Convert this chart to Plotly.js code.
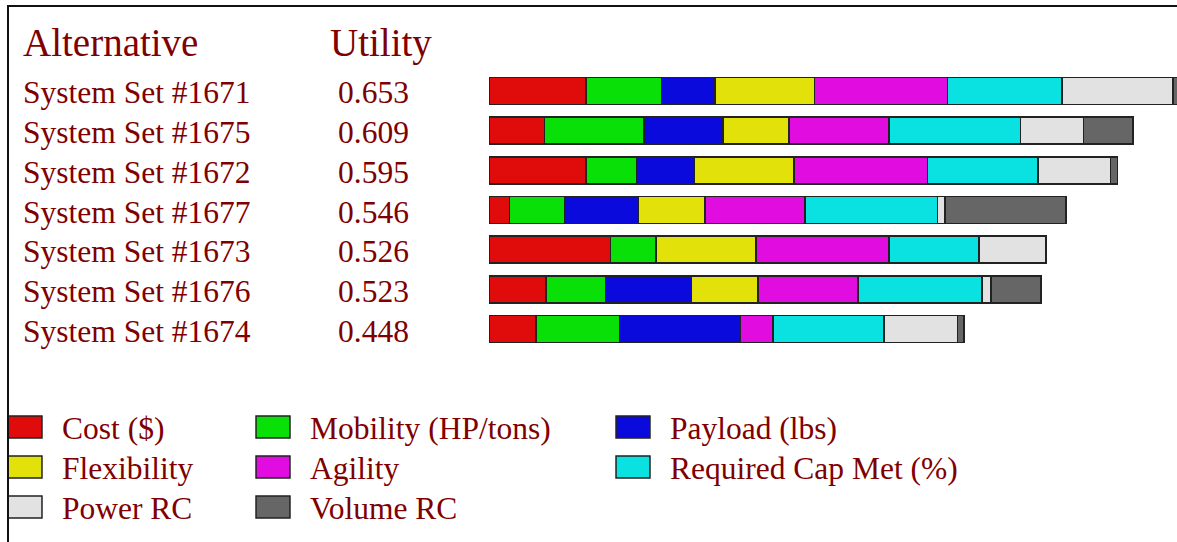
<!DOCTYPE html>
<html>
<head>
<meta charset="utf-8">
<script src="https://cdn.plot.ly/plotly-3.0.1.min.js"></script>
<style>
html,body{margin:0;padding:0;background:#fff;}
#wrap{position:relative;width:1177px;height:542px;overflow:hidden;}
#chart{position:absolute;left:0;top:0;width:1177px;height:542px;}
#frame{position:absolute;left:7px;top:5px;width:1300px;height:700px;border-top:2px solid #111;border-left:2px solid #111;pointer-events:none;z-index:10;}
.legendpoints path{transform:translate(25px,0px) scale(2.83,1.83);vector-effect:non-scaling-stroke;}
</style>
</head>
<body>
<div id="wrap"><div id="chart"></div><div id="frame"></div></div>
<script>
// ---- data ----
var alternatives = ['System Set #1671','System Set #1675','System Set #1672','System Set #1677','System Set #1673','System Set #1676','System Set #1674'];
var utilities = [0.653, 0.609, 0.595, 0.546, 0.526, 0.523, 0.448];
var criteria = ['Cost ($)','Mobility (HP/tons)','Payload (lbs)','Flexibility','Agility','Required Cap Met (%)','Power RC','Volume RC'];
var criteriaColors = ['#e00c0c','#08e008','#0a0adc','#e2e20a','#e00ce0','#0ae2e2','#e2e2e2','#666666'];
var cost        = [0.092, 0.0525, 0.092, 0.0192, 0.115, 0.054, 0.0443];
var mobility    = [0.071, 0.094, 0.048, 0.0524, 0.0429, 0.0563, 0.079];
var payload     = [0.051, 0.075, 0.054, 0.070, 0, 0.0812, 0.1145];
var flexibility = [0.094, 0.0625, 0.0947, 0.0627, 0.0948, 0.0629, 0];
var agility     = [0.126, 0.0946, 0.126, 0.0946, 0.1258, 0.0945, 0.031];
var reqCapMet   = [0.108, 0.124, 0.1045, 0.1255, 0.085, 0.1176, 0.105];
var powerRC     = [0.105, 0.060, 0.069, 0.0071, 0.0634, 0.0083, 0.0695];
var volumeRC    = [0.006, 0.0466, 0.0063, 0.1145, 0, 0.0475, 0.0062];
var seriesValues = [cost, mobility, payload, flexibility, agility, reqCapMet, powerRC, volumeRC];

// ---- layout constants ----
var W = 1177, H = 542;
var M = {l:489, r:0, t:71, b:193};
var plotW = W - M.l - M.r, plotH = H - M.t - M.b;
var pxPerUnit = 1057;
var textColor = '#7f0000';
var fontFam = '"Liberation Serif", "Times New Roman", serif';
function px2x(px){ return (px - M.l) / plotW; }
function py2y(py){ return (H - M.b - py) / plotH; }

var legendTextX = [62, 310, 670];
var legendRowY = [427, 467, 507];

var traces = [];
var layout = {
  width: W, height: H,
  margin: {l:M.l, r:M.r, t:M.t, b:M.b, pad:0, autoexpand:false},
  paper_bgcolor:'#ffffff', plot_bgcolor:'#ffffff',
  barmode:'stack', bargap:0.32,
  showlegend:true,
  xaxis:{range:[0, plotW/pxPerUnit], visible:false, fixedrange:true},
  yaxis:{type:'category', categoryorder:'array', categoryarray:alternatives, range:[alternatives.length-0.5, -0.5], visible:false, fixedrange:true},
  annotations:[]
};

criteria.forEach(function(name, i){
  var lid = i === 0 ? 'legend' : 'legend' + (i+1);
  traces.push({
    type:'bar', orientation:'h', name:name,
    x: seriesValues[i], y: alternatives,
    marker:{color:criteriaColors[i], line:{color:'#222222', width:1.5}},
    hoverinfo:'none', legend: lid
  });
  var col = i % 3, row = Math.floor(i / 3);
  layout[lid] = {
    xref:'container', yref:'container',
    x:(legendTextX[col] - 62)/W, xanchor:'left',
    y:1 - legendRowY[row]/H, yanchor:'middle',
    orientation:'v', itemwidth:52, borderwidth:0,
    bgcolor:'rgba(0,0,0,0)',
    font:{family:fontFam, size:31.5, color:textColor},
    itemclick:false, itemdoubleclick:false
  };
});

// headers
layout.annotations.push({xref:'paper', yref:'paper', x:px2x(21), y:py2y(43), xanchor:'left', yanchor:'middle', showarrow:false, text:'Alternative', font:{family:fontFam, size:39, color:textColor}});
layout.annotations.push({xref:'paper', yref:'paper', x:px2x(328), y:py2y(43), xanchor:'left', yanchor:'middle', showarrow:false, text:'Utility', font:{family:fontFam, size:39, color:textColor}});
// row labels
alternatives.forEach(function(a, k){
  layout.annotations.push({xref:'paper', yref:'y', x:px2x(21), y:a, xanchor:'left', yanchor:'middle', yshift:-2, showarrow:false, text:a, font:{family:fontFam, size:31.5, color:textColor}});
  layout.annotations.push({xref:'paper', yref:'y', x:px2x(336), y:a, xanchor:'left', yanchor:'middle', yshift:-2, showarrow:false, text:utilities[k].toFixed(3), font:{family:fontFam, size:31.5, color:textColor}});
});

Plotly.newPlot('chart', traces, layout, {displayModeBar:false, staticPlot:true});
</script>
</body>
</html>
